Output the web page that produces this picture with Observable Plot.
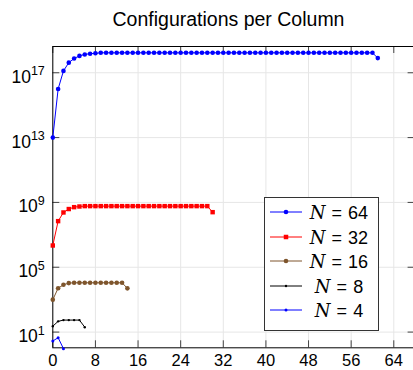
<!DOCTYPE html>
<html><head><meta charset="utf-8">
<script src="https://cdn.jsdelivr.net/npm/d3@7"></script>
<script src="https://cdn.jsdelivr.net/npm/@observablehq/plot@0.6"></script>
<style>
html,body{margin:0;padding:0;background:#fff;overflow:hidden;}
#wrap{position:relative;width:413px;height:370px;font-family:"Liberation Sans",sans-serif;}
#title{position:absolute;left:0;top:10px;width:457px;text-align:center;font-size:19.5px;line-height:19.5px;color:#000;white-space:nowrap;}
#chart{position:absolute;left:0;top:30px;}
#legend{position:absolute;left:264px;top:197px;width:113px;height:129px;border:1px solid #333;background:#fff;padding-top:3px;box-sizing:content-box;}
.row{height:24.6px;position:relative;}
.row svg{position:absolute;left:5px;top:0;}
.row .lab{position:absolute;left:40px;width:68px;top:1px;text-align:center;font-size:18px;line-height:22px;white-space:nowrap;}
.lab i{font-family:"DejaVu Serif","Liberation Serif",serif;font-style:italic;}
.lab .eq{margin:0 6px;}
</style></head>
<body>
<div id="wrap">
  <div id="title">Configurations per Column</div>
  <div id="chart"></div>
  <div id="legend"></div>
</div>
<script>
// ---- data ----
const xTicks = [0, 8, 16, 24, 32, 40, 48, 56, 64];
const yTicks = [1e1, 1e5, 1e9, 1e13, 1e17];
const seriesN = [64, 32, 16, 8, 4];
const seriesColors = ["#0000ff", "#ff0000", "#7e552c", "#000000", "#0000ff"];
const seriesSymbols = ["circle", "square", "circle", "circle", "circle"];
const seriesRadius = [2.3, 2.5, 2.3, 1.2, 1.5];

const valuesN64 = [1e13, 1.0e16, 1.3e17, 4.2e17, 7.6e17, 1.1e18, 1.35e18, 1.5e18, 1.6e18,
  1.7e18, 1.7e18, 1.7e18, 1.7e18, 1.7e18, 1.7e18, 1.7e18, 1.7e18, 1.7e18, 1.7e18,
  1.7e18, 1.7e18, 1.7e18, 1.7e18, 1.7e18, 1.7e18, 1.7e18, 1.7e18, 1.7e18, 1.7e18,
  1.7e18, 1.7e18, 1.7e18, 1.7e18, 1.7e18, 1.7e18, 1.7e18, 1.7e18, 1.7e18, 1.7e18,
  1.7e18, 1.7e18, 1.7e18, 1.7e18, 1.7e18, 1.7e18, 1.7e18, 1.7e18, 1.7e18, 1.7e18,
  1.7e18, 1.7e18, 1.7e18, 1.7e18, 1.7e18, 1.7e18, 1.7e18, 1.7e18, 1.7e18, 1.7e18,
  1.7e18, 1.7e18, 8e17];
const valuesN32 = [2.2e6, 7e7, 2.4e8, 3.9e8, 5.1e8, 5.6e8,
  5.9e8, 5.9e8, 5.9e8, 5.9e8, 5.9e8, 5.9e8, 5.9e8, 5.9e8, 5.9e8, 5.9e8, 5.9e8, 5.9e8,
  5.9e8, 5.9e8, 5.9e8, 5.9e8, 5.9e8, 5.9e8, 5.9e8, 5.9e8, 5.9e8, 5.9e8, 5.9e8, 5.9e8,
  2.5e8];
const valuesN16 = [1e3, 5.1e3, 8.3e3, 1.05e4, 1.1e4, 1.1e4, 1.1e4, 1.1e4, 1.1e4, 1.1e4,
  1.1e4, 1.1e4, 1.1e4, 1.1e4, 5e3];
const valuesN8 = [23, 46, 55, 55, 55, 55, 20];
const valuesN4 = [2.8, 4.5, 0.95];
const allValues = [valuesN64, valuesN32, valuesN16, valuesN8, valuesN4];

// ---- table ----
const rows = [];
allValues.forEach((vals, i) => vals.forEach((v, j) => rows.push({n: seriesN[i], col: j, value: v})));

const W = 413, H = 340, mL = 52.3, mR = -1.6, mT = 16, mB = 22.7;
const frameW = W - mL - mR, frameH = H - mT - mB, tick = 7;

const marks = [
  Plot.gridX(xTicks, {stroke: "#e6e6e6", strokeOpacity: 1}),
  Plot.gridY(yTicks, {stroke: "#e6e6e6", strokeOpacity: 1}),
  Plot.ruleX(xTicks, {stroke: "#444", insetTop: frameH - tick}),
  Plot.ruleX(xTicks, {stroke: "#444", insetBottom: frameH - tick}),
  Plot.ruleY(yTicks, {stroke: "#444", insetRight: frameW - tick}),
  Plot.ruleY(yTicks, {stroke: "#444", insetLeft: frameW - tick}),
  Plot.axisX(xTicks, {anchor: "bottom", tickSize: 0, tickPadding: 6, fontSize: 16.5, label: null, tickFormat: d => String(d)}),
  Plot.axisY(yTicks, {anchor: "left", tickSize: 0, tickPadding: 8, fontSize: 17.5, label: null, tickFormat: d => String(Math.round(Math.log10(d)))}),
  Plot.frame({stroke: "#000", strokeWidth: 1})
];
seriesN.forEach((n, i) => {
  const d = rows.filter(r => r.n === n);
  marks.push(Plot.line(d, {x: "col", y: "value", stroke: seriesColors[i], strokeWidth: 1}));
  marks.push(Plot.dot(d, {x: "col", y: "value", fill: seriesColors[i], stroke: "none", r: seriesRadius[i], symbol: seriesSymbols[i]}));
});

const chart = Plot.plot({
  width: W, height: H,
  marginLeft: mL, marginRight: mR, marginTop: mT, marginBottom: mB,
  x: {domain: [0, 68]},
  y: {type: "log", domain: [Math.pow(10, 0.03), Math.pow(10, 18.62)]},
  style: {fontFamily: "Liberation Sans, sans-serif", color: "#000", background: "#fff", overflow: "visible"},
  marks
});
document.getElementById("chart").appendChild(chart);

// superscript exponents for the log axis
d3.select(chart).selectAll('g[aria-label="y-axis tick label"] text').each(function () {
  const t = d3.select(this);
  const exp = t.text();
  t.text("10").attr("y", 10);
  t.append("tspan").attr("dy", -7.5).attr("font-size", 12.5).text(exp);
});

// ---- legend ----
const legend = document.getElementById("legend");
seriesN.forEach((n, i) => {
  const row = document.createElement("div");
  row.className = "row";
  const c = seriesColors[i];
  const r = seriesRadius[i];
  const mk = seriesSymbols[i] === "square"
    ? `<rect x="${16 - r * 0.9}" y="${11 - r * 0.9}" width="${r * 1.8}" height="${r * 1.8}" fill="${c}"/>`
    : `<circle cx="16" cy="11" r="${r}" fill="${c}"/>`;
  row.innerHTML = `<svg width="34" height="22"><line x1="0" x2="32" y1="11" y2="11" stroke="${c}" stroke-width="1"/>${mk}</svg>` +
    `<span class="lab"><i>N</i><span class="eq">=</span>${n}</span>`;
  legend.appendChild(row);
});
</script>
</body></html>
